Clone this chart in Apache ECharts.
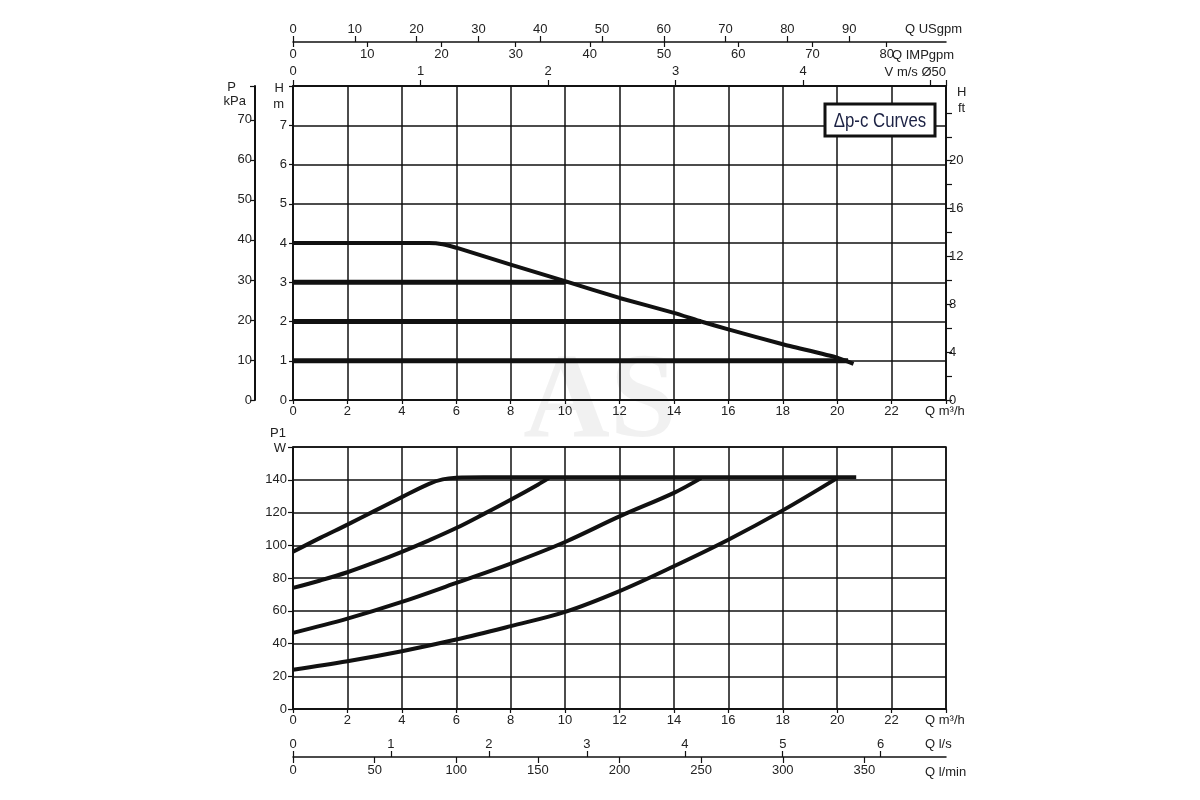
<!DOCTYPE html>
<html>
<head>
<meta charset="utf-8">
<script src="https://cdn.jsdelivr.net/npm/echarts@6/dist/echarts.min.js"></script>
<style>html,body{margin:0;padding:0;background:#fff}#c{width:1200px;height:800px}</style>
</head>
<body>
<div id="c"></div>
<script>
// ---- data (Q in m³/h) ----
// Head curves (H in m)
const headMax = [[0,4],[5,4],[5.5,3.97],[6,3.88],[8,3.45],[10,3.03],[12,2.6],[14,2.22],[15,2.0],[16,1.8],[18,1.42],[20,1.08],[20.6,0.92]];
const head3 = [[0,3],[10,3]];
const head2 = [[0,2],[15.0,2]];
const head1 = [[0,1],[20.4,1]];
// Power curves (P1 in W)
const powerMax = [[0,96],[1,104.5],[2,112.6],[3,121],[4,129.4],[5,137.5],[5.5,140.2],[6,141.2],[7,141.5],[20.7,141.5]];
const power3 = [[0,74],[1,78.5],[2,83.5],[3,89.5],[4,96],[5,103],[6,110.5],[7,119],[8,127.8],[9,137],[9.4,141]];
const power2 = [[0,46.5],[2,55.2],[4,65.4],[6,77],[8,88.8],[10,102],[12,117.6],[14,132],[15,141]];
const power1 = [[0,24],[2,29.2],[4,35.3],[6,42.4],[8,50.6],[10,59.3],[12,72],[14,87.2],[16,103.4],[18,121.3],[20,141]];
// Axis label values
const qLabels = [0,2,4,6,8,10,12,14,16,18,20,22];
const usgpmLabels = [0,10,20,30,40,50,60,70,80,90];
const impgpmLabels = [0,10,20,30,40,50,60,70,80];
const velLabels = [0,1,2,3,4];
const lsLabels = [0,1,2,3,4,5,6];
const lminLabels = [0,50,100,150,200,250,300,350];
const hmLabels = [0,1,2,3,4,5,6,7];
const kpaLabels = [0,10,20,30,40,50,60,70];
const ftLabels = [0,4,8,12,16,20];
const ftTicks = [0,2,4,6,8,10,12,14,16,18,20,22,24];
const wLabels = [0,20,40,60,80,100,120,140];

const Q_MAX = 24, H_MAX = 8, W_MAX = 160;
const FONT = 'Liberation Sans, Arial, sans-serif';
const TXT = '#222';
const lab = (o) => Object.assign({color: TXT, fontFamily: FONT, fontSize: 13}, o);
const axLine = (show, w) => ({show: show, onZero: false, lineStyle: {color: '#111', width: w || 1.5}});
const tick = (len, inside, vals) => {
  const t = {show: true, length: len, inside: !!inside, lineStyle: {color: '#111', width: 1.2}};
  if (vals) t.customValues = vals;
  return t;
};
const split = () => ({show: true, lineStyle: {color: '#111', width: 1.5}});

const chart = echarts.init(document.getElementById('c'));
const L = 293, R = 254;

const curve = (data, xi, yi, w, smooth) => ({
  type: 'line', data, xAxisIndex: xi, yAxisIndex: yi, showSymbol: false, symbol: 'none',
  smooth: smooth || false, lineStyle: {color: '#111', width: w}, z: 5, silent: true
});

const gText = (text, x, y, align, extra) => Object.assign({
  type: 'text', x, y, silent: true, z: 10,
  style: {text, fill: TXT, font: '13px ' + FONT, textAlign: align || 'left', textVerticalAlign: 'middle'}
}, extra || {});

chart.setOption({
  animation: false,
  backgroundColor: '#fff',
  grid: [
    {left: L, right: R, top: 86, height: 314, show: true, borderColor: '#111', borderWidth: 1.5},
    {left: L, right: R, top: 447, height: 262, show: true, borderColor: '#111', borderWidth: 1.5}
  ],
  xAxis: [
    {type: 'value', gridIndex: 0, position: 'bottom', min: 0, max: Q_MAX, interval: 2,
     axisLine: axLine(true), axisTick: tick(4, false), splitLine: split(),
     axisLabel: lab({margin: 5, customValues: qLabels})},
    {type: 'value', gridIndex: 0, position: 'top', min: 0, max: 5.12, interval: 1,
     axisLine: axLine(true), axisTick: tick(6, false), splitLine: {show: false},
     axisLabel: lab({margin: 8, customValues: velLabels})},
    {type: 'value', gridIndex: 0, position: 'top', offset: 44, min: 0, max: 105.67, interval: 10,
     axisLine: axLine(true), axisTick: tick(6, false, usgpmLabels), splitLine: {show: false},
     axisLabel: lab({margin: 6, customValues: usgpmLabels})},
    {type: 'value', gridIndex: 0, position: 'top', offset: 44, min: 0, max: 87.99, interval: 10,
     axisLine: axLine(false), axisTick: tick(5, true, impgpmLabels), splitLine: {show: false},
     axisLabel: lab({margin: 6, inside: true, customValues: impgpmLabels})},
    {type: 'value', gridIndex: 1, position: 'bottom', min: 0, max: Q_MAX, interval: 2,
     axisLine: axLine(true), axisTick: tick(4, false), splitLine: split(),
     axisLabel: lab({margin: 5, customValues: qLabels})},
    {type: 'value', gridIndex: 1, position: 'bottom', offset: 48, min: 0, max: 6.6667, interval: 1,
     axisLine: axLine(true), axisTick: tick(6, true, lsLabels), splitLine: {show: false},
     axisLabel: lab({margin: 6, inside: true, customValues: lsLabels})},
    {type: 'value', gridIndex: 1, position: 'bottom', offset: 48, min: 0, max: 400, interval: 50,
     axisLine: axLine(false), axisTick: tick(6, false, lminLabels), splitLine: {show: false},
     axisLabel: lab({margin: 7, customValues: lminLabels})}
  ],
  yAxis: [
    {type: 'value', gridIndex: 0, position: 'left', min: 0, max: H_MAX, interval: 1,
     axisLine: axLine(true), axisTick: tick(4, false), splitLine: split(),
     axisLabel: lab({margin: 6, customValues: hmLabels})},
    {type: 'value', gridIndex: 0, position: 'left', offset: 38, min: 0, max: 78.45, interval: 10,
     axisLine: axLine(true, 2), axisTick: tick(5, false), splitLine: {show: false},
     axisLabel: lab({margin: 3, customValues: kpaLabels})},
    {type: 'value', gridIndex: 0, position: 'right', min: 0, max: 26.247, interval: 2,
     axisLine: axLine(true), axisTick: tick(6, false, ftTicks), splitLine: {show: false},
     axisLabel: lab({margin: 3, customValues: ftLabels})},
    {type: 'value', gridIndex: 1, position: 'left', min: 0, max: W_MAX, interval: 20,
     axisLine: axLine(true), axisTick: tick(5, false), splitLine: split(),
     axisLabel: lab({margin: 6, customValues: wLabels})}
  ],
  series: [
    curve(head1, 0, 0, 5, false),
    curve(head2, 0, 0, 5, false),
    curve(head3, 0, 0, 5, false),
    curve(headMax, 0, 0, 4, 0.15),
    curve(power1, 4, 3, 4, 0.35),
    curve(power2, 4, 3, 4, 0.35),
    curve(power3, 4, 3, 4, 0.35),
    curve(powerMax, 4, 3, 4, 0.35)
  ],
  graphic: [
    {type: 'text', x: 600, y: 405, z: -1, silent: true,
     style: {text: 'AS', fill: 'rgba(200,200,200,0.25)', font: 'bold 120px Liberation Serif, serif', textAlign: 'center', textVerticalAlign: 'middle'}},
    {type: 'rect', z: 20, silent: true, shape: {x: 825, y: 104, width: 110, height: 32}, style: {fill: '#fff', stroke: '#111', lineWidth: 3}},
    {type: 'text', z: 21, silent: true, x: 880, y: 121, scaleX: 0.84, originX: 0, originY: 0,
     style: {text: 'Δp-c Curves', fill: '#1c2244', font: '20px Liberation Sans, Arial, sans-serif', textAlign: 'center', textVerticalAlign: 'middle'}},
    gText('Q USgpm', 905, 29),
    gText('Q IMPgpm', 892, 55),
    gText('V m/s Ø50', 946, 72, 'right'),
    gText('H', 284, 88, 'right'),
    gText('m', 284, 104, 'right'),
    gText('P', 236, 87, 'right'),
    gText('kPa', 246, 101, 'right'),
    gText('H', 957, 92),
    gText('ft', 958, 108),
    gText('Q m³/h', 925, 411),
    gText('P1', 286, 433, 'right'),
    gText('W', 286, 448, 'right'),
    gText('Q m³/h', 925, 720),
    gText('Q l/s', 925, 744),
    gText('Q l/min', 925, 772)
  ]
});
</script>
</body>
</html>
